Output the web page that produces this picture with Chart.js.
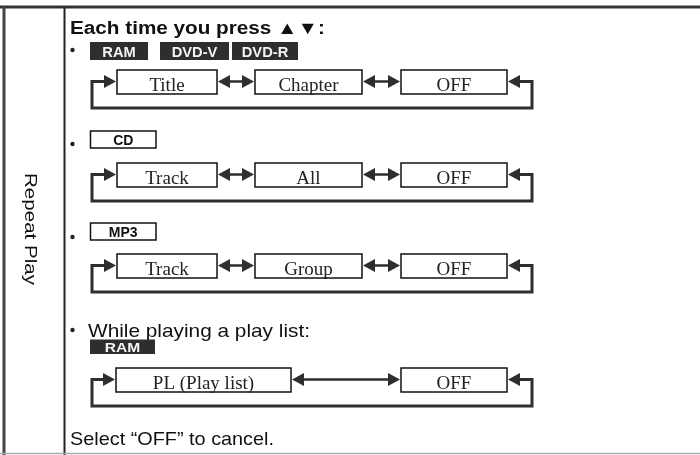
<!DOCTYPE html>
<html>
<head>
<meta charset="utf-8">
<script src="https://cdn.jsdelivr.net/npm/chart.js@4"></script>
<style>
  html, body { margin: 0; padding: 0; background: #fff; }
  canvas { display: block; }
</style>
</head>
<body>
<canvas id="myChart" width="700" height="455"></canvas>
<script>
// Content
const sideLabel = 'Repeat Play';
const header = 'Each time you press \u25B2\u25BC:';
const footer = 'Select \u201COFF\u201D to cancel.';
const rowTags = [['RAM', 'DVD-V', 'DVD-R'], ['CD'], ['MP3'], ['RAM']];
const rowNotes = [null, null, null, 'While playing a play list:'];
const rowStates = [
  ['Title', 'Chapter', 'OFF'],
  ['Track', 'All', 'OFF'],
  ['Track', 'Group', 'OFF'],
  ['PL (Play list)', 'OFF']
];

// Layout (page units, mapped through the hidden scales)
const tagFilled = [true, false, false, true];
const tagTop = [42, 131, 223, 339.5];
const tagH = [18, 17, 17, 14.5];
const tagFont = [14, 14, 14, 12];
const tagStretch = [1.05, 1.0, 1.0, 1.3];
const tagX = [[90, 148], [160, 229], [232, 298]];
const bulletY = [50, 144, 237, 330];
const boxTop = [70, 163, 254, 368];
const boxH = 24;
const boxCols3 = [[117, 217], [255, 362], [401, 507]];
const boxCols2 = [[116, 291], [401, 507]];
const loopLeft = 92, loopRight = 532;

const dark = '#2e2e2e';

const diagram = {
  id: 'diagram',
  afterDraw(chart) {
    const {ctx, scales: {x, y}} = chart;
    const px = v => x.getPixelForValue(v);
    const py = v => y.getPixelForValue(v);

    function text(str, x0, base, font, color, opts = {}) {
      ctx.save();
      ctx.font = font;
      ctx.fillStyle = color;
      ctx.textBaseline = 'alphabetic';
      const w = ctx.measureText(str).width;
      let sx = opts.sx || 1;
      if (opts.width) sx = opts.width / w;
      let left = px(x0);
      if (opts.center) left = px(x0) - w * sx / 2;
      ctx.translate(left, py(base));
      ctx.scale(sx, 1);
      ctx.fillText(str, 0, 0);
      ctx.restore();
    }

    function line(pts, width, color) {
      ctx.save();
      ctx.strokeStyle = color;
      ctx.lineWidth = width;
      ctx.lineJoin = 'miter';
      ctx.beginPath();
      pts.forEach((p, i) => i ? ctx.lineTo(px(p[0]), py(p[1])) : ctx.moveTo(px(p[0]), py(p[1])));
      ctx.stroke();
      ctx.restore();
    }

    // arrowhead, tip at (tx, ty), dir = +1 points right, -1 points left
    function head(tx, ty, dir) {
      ctx.save();
      ctx.fillStyle = dark;
      ctx.beginPath();
      ctx.moveTo(px(tx), py(ty));
      ctx.lineTo(px(tx - dir * 12), py(ty - 6.5));
      ctx.lineTo(px(tx - dir * 12), py(ty + 6.5));
      ctx.closePath();
      ctx.fill();
      ctx.restore();
    }

    // frame
    line([[0, 7], [700, 7]], 3, '#333');
    line([[4, 7], [4, 455]], 3, '#444');
    line([[64.5, 7], [64.5, 455]], 2, '#222');
    line([[0, 453.5], [700, 453.5]], 1.5, '#aaa');

    // side label, rotated
    ctx.save();
    ctx.translate(px(25), py(229));
    ctx.rotate(Math.PI / 2);
    ctx.font = '17px "Liberation Sans", Arial, sans-serif';
    ctx.fillStyle = '#111';
    const sw = ctx.measureText(sideLabel).width;
    ctx.scale(112 / sw, 1);
    ctx.fillText(sideLabel, -sw / 2, 0);
    ctx.restore();

    text(header, 70, 33.5, 'bold 18px "Liberation Sans", "DejaVu Sans", sans-serif', '#111', {width: 255});

    rowStates.forEach((states, r) => {
      // bullet
      ctx.save();
      ctx.fillStyle = '#222';
      ctx.beginPath();
      ctx.arc(px(72.5), py(bulletY[r]), 2.2, 0, Math.PI * 2);
      ctx.fill();
      ctx.restore();

      if (rowNotes[r]) {
        text(rowNotes[r], 88, 337, '18.5px "Liberation Sans", Arial, sans-serif', '#111', {width: 222});
      }

      // tags
      rowTags[r].forEach((tag, i) => {
        const [x0, x1] = tagX[i];
        const xa = tagFilled[r] ? x0 : 90.5;
        const xb = tagFilled[r] ? (r === 3 ? 155 : x1) : 156;
        const t = tagTop[r], h = tagH[r];
        ctx.save();
        if (tagFilled[r]) {
          ctx.fillStyle = dark;
          ctx.fillRect(px(xa), py(t), px(xb) - px(xa), py(t + h) - py(t));
        } else {
          ctx.strokeStyle = '#111';
          ctx.lineWidth = 1.5;
          ctx.strokeRect(px(xa), py(t), px(xb) - px(xa), py(t + h) - py(t));
        }
        ctx.restore();
        text(tag, (xa + xb) / 2, t + h - (h >= 17 ? 3.5 : 2.5),
          'bold ' + tagFont[r] + 'px "Liberation Sans", Arial, sans-serif',
          tagFilled[r] ? '#f4f4f4' : '#111', {center: true, sx: tagStretch[r]});
      });

      // boxes
      const cols = states.length === 3 ? boxCols3 : boxCols2;
      const top = boxTop[r], bot = top + boxH, mid = top + 11.5;
      states.forEach((s, i) => {
        const [x0, x1] = cols[i];
        ctx.save();
        ctx.strokeStyle = '#111';
        ctx.lineWidth = 1.5;
        ctx.strokeRect(px(x0), py(top), px(x1) - px(x0), py(bot) - py(top));
        ctx.restore();
        text(s, (x0 + x1) / 2, bot - 3.5, '19px "Liberation Serif", "Times New Roman", serif', '#222', {center: true});
      });

      // arrows between boxes
      for (let i = 0; i < cols.length - 1; i++) {
        const a = cols[i][1] + 1, b = cols[i + 1][0] - 1;
        line([[a + 6, mid], [b - 6, mid]], 2.5, dark);
        head(a, mid, -1);
        head(b, mid, 1);
      }

      // loop back
      const first = cols[0][0], last = cols[cols.length - 1][1];
      const lb = top + 38;
      line([[first - 11, mid], [loopLeft, mid], [loopLeft, lb], [loopRight, lb], [loopRight, mid], [last + 11, mid]], 3, dark);
      head(first - 1, mid, 1);
      head(last + 1, mid, -1);
    });

    text(footer, 70, 445, '18.5px "Liberation Sans", Arial, sans-serif', '#111', {width: 204});
  }
};

new Chart(document.getElementById('myChart'), {
  type: 'scatter',
  data: {datasets: []},
  options: {
    responsive: false,
    animation: false,
    layout: {padding: 0},
    scales: {
      x: {type: 'linear', min: 0, max: 700, display: false},
      y: {type: 'linear', min: 0, max: 455, reverse: true, display: false}
    },
    plugins: {legend: {display: false}, tooltip: {enabled: false}}
  },
  plugins: [diagram]
});
</script>
</body>
</html>
